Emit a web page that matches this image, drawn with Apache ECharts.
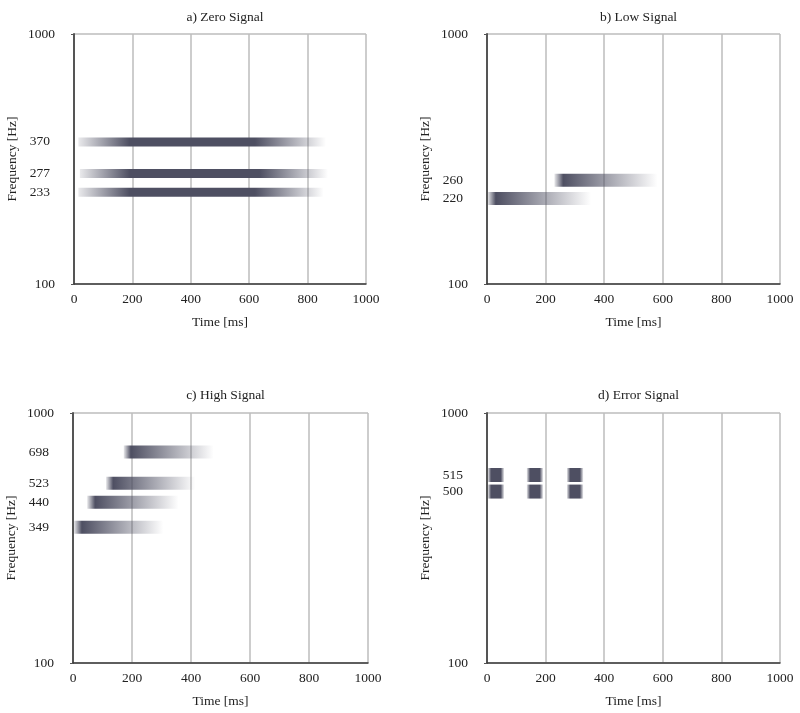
<!DOCTYPE html>
<html>
<head>
<meta charset="utf-8">
<script src="https://cdn.jsdelivr.net/npm/echarts@6/dist/echarts.min.js"></script>
<style>
html,body{margin:0;padding:0;background:#fff;}
#chart{width:800px;height:713px;}
</style>
</head>
<body>
<div id="chart"></div>
<script>
// ---------- data ----------
const panelTitles = ['a) Zero Signal', 'b) Low Signal', 'c) High Signal', 'd) Error Signal'];
const xTicks = [0, 200, 400, 600, 800, 1000];

// a) Zero Signal (ms, Hz)
const zeroFreqs    = [370, 277, 233];
const zeroStart    = [15, 20, 15];
const zeroDarkFrom = [190, 190, 190];
const zeroDarkTo   = [620, 635, 620];
const zeroEnd      = [863, 870, 855];

// b) Low Signal
const lowFreqs    = [260, 220];
const lowStart    = [230, 2];
const lowDarkFrom = [260, 30];
const lowEnd      = [582, 355];

// c) High Signal
const highFreqs    = [698, 523, 440, 349];
const highStart    = [172, 112, 48, 3];
const highDarkFrom = [196, 136, 75, 30];
const highEnd      = [477, 415, 358, 306];

// d) Error Signal: row labels and the rows' drawn positions (rows drawn apart in the reference)
const errLabels = ['515', '500'];
const errRowPos = [565, 485];
const errStart  = [3, 136, 273];
const errEnd    = [58, 191, 328];

// ---------- styling helpers ----------
const FONT = 'Liberation Serif';
const DARK = [78, 79, 98];
function rgba(a) { return 'rgba(' + DARK[0] + ',' + DARK[1] + ',' + DARK[2] + ',' + a + ')'; }

const grids = [
  {left: 74, top: 34, width: 292, height: 250},
  {left: 487, top: 34, width: 293, height: 250},
  {left: 73, top: 413, width: 295, height: 250},
  {left: 487, top: 413, width: 293, height: 250}
];

function xAxisFor(i) {
  return {
    type: 'value', gridIndex: i, min: 0, max: 1000, interval: 200,
    name: 'Time [ms]', nameLocation: 'middle', nameGap: 31,
    nameTextStyle: {fontFamily: FONT, fontSize: 13.5, color: '#222'},
    axisLine: {show: true, lineStyle: {color: '#3a3a3a', width: 1.5}},
    axisTick: {show: false},
    axisLabel: {fontFamily: FONT, fontSize: 13.5, color: '#222', margin: 8,
      formatter: function (v) { return xTicks.indexOf(v) >= 0 ? String(v) : ''; }},
    splitLine: {show: true, lineStyle: {color: '#bdbdbd', width: 1.5}}
  };
}
function yAxisFor(i) {
  return {
    type: 'log', logBase: 10, gridIndex: i, min: 100, max: 1000,
    name: 'Frequency [Hz]', nameLocation: 'middle', nameGap: 55,
    nameTextStyle: {fontFamily: FONT, fontSize: 13.5, color: '#222'},
    axisLine: {show: true, lineStyle: {color: '#555', width: 2}},
    axisTick: {show: true, length: 3, lineStyle: {color: '#555'}},
    axisLabel: {fontFamily: FONT, fontSize: 13.5, color: '#222', margin: 19,
      formatter: function (v) { return (v === 100 || v === 1000) ? String(v) : ''; }},
    splitLine: {show: true, lineStyle: {color: '#bdbdbd', width: 1.5}}
  };
}

// bar renderer: value = [start, end, freq, ...gradient params]
function barSeries(i, data, barH, stopsFn) {
  return {
    type: 'custom', xAxisIndex: i, yAxisIndex: i, silent: true,
    data: data,
    renderItem: function (params, api) {
      const s = api.value(0), e = api.value(1), f = api.value(2);
      const p0 = api.coord([s, f]), p1 = api.coord([e, f]);
      const w = p1[0] - p0[0];
      const stops = stopsFn(data[params.dataIndex]);
      return {
        type: 'rect',
        shape: {x: p0[0], y: p0[1] - barH / 2, width: w, height: barH},
        style: {fill: {type: 'linear', x: 0, y: 0, x2: 1, y2: 0, global: false, colorStops: stops}}
      };
    }
  };
}

function labelSeries(i, positions, labels) {
  const data = positions.map(function (p) { return [0, p]; });
  return {
    type: 'custom', xAxisIndex: i, yAxisIndex: i, silent: true,
    data: data,
    renderItem: function (params, api) {
      const pt = api.coord([0, api.value(1)]);
      return {
        type: 'text',
        style: {
          x: pt[0] - 24, y: pt[1], text: labels[params.dataIndex],
          align: 'right', verticalAlign: 'middle',
          fontFamily: FONT, fontSize: 13.5, fill: '#222'
        }
      };
    }
  };
}

// ---------- build data ----------
const zeroData = zeroFreqs.map(function (f, k) {
  return [zeroStart[k], zeroEnd[k], f, zeroDarkFrom[k], zeroDarkTo[k]];
});
const lowData = lowFreqs.map(function (f, k) {
  return [lowStart[k], lowEnd[k], f, lowDarkFrom[k]];
});
const highData = highFreqs.map(function (f, k) {
  return [highStart[k], highEnd[k], f, highDarkFrom[k]];
});
const errData = [];
errRowPos.forEach(function (p) {
  errStart.forEach(function (s, k) { errData.push([s, errEnd[k], p]); });
});

function frac(d, v) { return (v - d[0]) / (d[1] - d[0]); }

const zeroStops = function (d) {
  return [
    {offset: 0, color: rgba(0.12)},
    {offset: frac(d, d[3]), color: rgba(1)},
    {offset: frac(d, d[4]), color: rgba(1)},
    {offset: 1, color: rgba(0)}
  ];
};
const fadeStops = function (d) {
  return [
    {offset: 0, color: rgba(0.12)},
    {offset: frac(d, d[3]), color: rgba(1)},
    {offset: 1, color: rgba(0)}
  ];
};
const blockStops = function () {
  return [
    {offset: 0, color: rgba(0.15)},
    {offset: 0.2, color: rgba(1)},
    {offset: 0.8, color: rgba(1)},
    {offset: 1, color: rgba(0.15)}
  ];
};

const option = {
  backgroundColor: '#fff',
  animation: false,
  title: panelTitles.map(function (t, i) {
    const g = grids[i];
    return {
      text: t, left: g.left + g.width / 2, top: i < 2 ? 5 : 383, textAlign: 'center',
      textStyle: {fontFamily: FONT, fontSize: 13.5, fontWeight: 'normal', color: '#222'}
    };
  }),
  grid: grids,
  xAxis: [0, 1, 2, 3].map(xAxisFor),
  yAxis: [0, 1, 2, 3].map(yAxisFor),
  series: [
    barSeries(0, zeroData, 9, zeroStops),
    labelSeries(0, zeroFreqs, zeroFreqs.map(String)),
    barSeries(1, lowData, 13, fadeStops),
    labelSeries(1, lowFreqs, lowFreqs.map(String)),
    barSeries(2, highData, 13, fadeStops),
    labelSeries(2, highFreqs, highFreqs.map(String)),
    barSeries(3, errData, 14, blockStops),
    labelSeries(3, errRowPos, errLabels)
  ]
};

const chart = echarts.init(document.getElementById('chart'), null, {renderer: 'canvas'});
chart.setOption(option);
</script>
</body>
</html>
